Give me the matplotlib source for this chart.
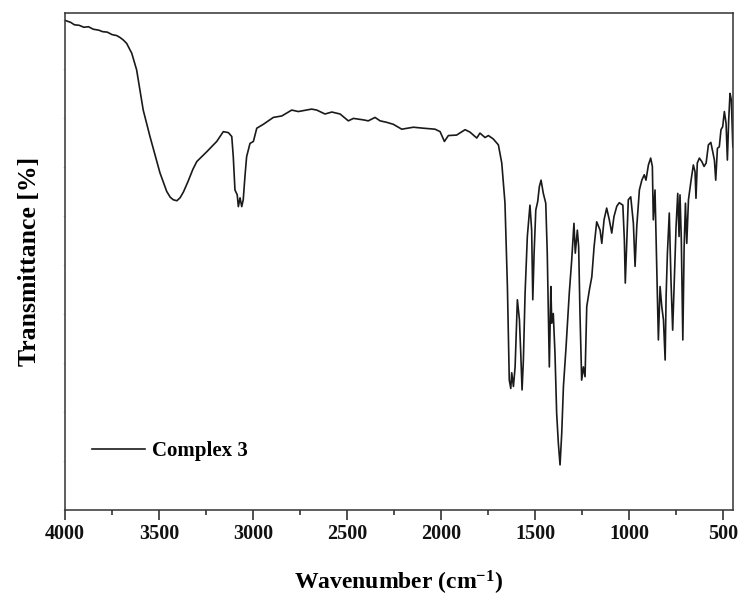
import numpy as np
import matplotlib
matplotlib.use("Agg")
import matplotlib.pyplot as plt
from matplotlib.ticker import MultipleLocator, NullFormatter

# IR spectrum of complex 3
# wavenumber (cm^-1) and transmittance (arbitrary %, axis unlabelled)
wavenumber = [
    4000, 3970, 3950, 3925, 3900, 3875, 3850, 3820, 3800, 3775, 3750, 3725,
    3707, 3690, 3672, 3645, 3619, 3584, 3548, 3520,
    3495, 3459, 3440, 3424, 3405, 3388, 3370, 3346, 3320, 3299, 3270, 3246, 3193, 3158, 3131, 3113, 3105,
    3096, 3084, 3078, 3069, 3060, 3052, 3043, 3034, 3016, 2998, 2980, 2945,
    2892, 2847, 2794, 2759, 2688, 2661, 2617, 2581, 2537, 2493, 2466, 2413,
    2387, 2351, 2324, 2289, 2254, 2209, 2147, 2094, 2032, 2005, 1982, 1961,
    1917, 1872, 1846, 1810, 1793, 1766, 1748, 1722, 1695, 1677, 1660, 1647,
    1637, 1629, 1624, 1615, 1606, 1594, 1583, 1576, 1569, 1562, 1553, 1541,
    1527, 1518, 1512, 1505, 1496, 1486, 1477, 1468, 1456, 1443, 1435, 1424,
    1416, 1411, 1403, 1394, 1385, 1376, 1367, 1358, 1349, 1335, 1318, 1305,
    1293, 1286, 1275, 1268, 1261, 1252, 1243, 1234, 1225, 1211, 1198, 1186,
    1172, 1154, 1145, 1133, 1119, 1105, 1092, 1080, 1065, 1052, 1033, 1025,
    1020, 1012, 1004, 991, 977, 968, 959, 945, 932, 919, 910, 897,
    885, 876, 871, 862, 853, 844, 835, 826, 817, 808, 803, 796,
    786, 777, 768, 761, 750, 741, 734, 729, 722, 714, 707, 700,
    693, 684, 670, 658, 649, 644, 637, 626, 613, 601, 590, 578,
    565, 555, 546, 539, 530, 520, 511, 502, 493, 484, 477, 470,
    463, 456, 448,
]
transmittance = [
    99.9, 99.5, 99.0, 98.9, 98.5, 98.6, 98.1, 97.9, 97.6, 97.5, 97.0, 96.8,
    96.4, 95.9, 95.2, 93.2, 89.8, 81.6, 76.2, 72.3,
    68.8, 65.0, 63.8, 63.3, 63.1, 63.7, 64.9, 67.0, 69.5, 71.1, 72.2, 73.1, 75.2, 77.2, 77.0, 76.2, 72.1,
    65.3, 64.3, 61.9, 63.7, 61.9, 63.3, 68.0, 72.1, 74.8, 75.2, 77.9, 78.7,
    80.1, 80.4, 81.6, 81.3, 81.8, 81.6, 80.8, 81.2, 80.8, 79.4, 79.9, 79.6,
    79.4, 80.1, 79.4, 79.1, 78.7, 77.7, 78.1, 77.9, 77.7, 77.2, 75.2, 76.4,
    76.5, 77.6, 77.1, 75.9, 76.9, 76.0, 76.4, 75.7, 74.5, 70.8, 62.7, 45.6,
    26.5, 24.8, 28.0, 25.2, 29.2, 42.9, 38.8, 32.0, 24.5, 30.6, 44.2, 55.8,
    62.2, 57.1, 42.9, 52.4, 61.2, 62.9, 66.0, 67.3, 64.6, 62.6, 52.4, 29.2,
    45.6, 38.1, 40.1, 32.0, 19.7, 13.6, 9.2, 15.7, 25.2, 33.3, 44.2, 51.0,
    58.5, 52.4, 57.1, 53.7, 40.1, 26.5, 29.2, 27.2, 41.5, 44.9, 47.6, 53.7,
    58.8, 57.1, 54.4, 59.2, 61.6, 59.2, 56.5, 59.9, 62.0, 62.7, 62.2, 55.1,
    46.3, 55.1, 63.3, 63.9, 58.5, 49.7, 57.8, 65.3, 67.3, 68.4, 67.3, 70.4,
    71.8, 70.1, 59.2, 65.3, 49.7, 34.7, 45.6, 41.5, 38.8, 30.6, 43.5, 52.4,
    60.6, 46.9, 36.7, 44.9, 57.8, 64.6, 55.8, 64.3, 55.1, 34.7, 53.7, 62.6,
    54.4, 63.3, 67.3, 70.4, 69.0, 63.6, 70.8, 71.8, 71.1, 70.1, 70.8, 74.5,
    75.0, 73.1, 71.4, 67.3, 73.8, 74.1, 77.6, 78.2, 81.3, 78.9, 71.4, 79.6,
    85.0, 83.7, 74.1,
]

x_ticks = [4000, 3500, 3000, 2500, 2000, 1500, 1000, 500]

plt.rcParams['font.family'] = ['Liberation Serif', 'DejaVu Serif']
plt.rcParams['font.weight'] = 'bold'
plt.rcParams['mathtext.fontset'] = 'custom'
plt.rcParams['mathtext.rm'] = 'Liberation Serif:bold'
plt.rcParams['mathtext.bf'] = 'Liberation Serif:bold'
plt.rcParams['mathtext.default'] = 'bf'

fig = plt.figure(figsize=(7.42, 6.06), dpi=100)
ax = fig.add_axes([0.0876, 0.1584, 0.9003, 0.8201])

ax.plot(wavenumber, transmittance, color='#1a1a1a', linewidth=1.2, label='Complex 3')

ax.set_xlim(4000, 447)
ax.set_ylim(0, 101.4)
ax.set_xticks(x_ticks)
ax.xaxis.set_minor_locator(MultipleLocator(250))
ax.yaxis.set_major_locator(MultipleLocator(10))
ax.yaxis.set_major_formatter(NullFormatter())

ax.tick_params(axis='x', which='major', direction='out', length=7, width=1.1,
               labelsize=14.5, colors='#222222', pad=3)
ax.tick_params(axis='x', which='minor', direction='out', length=3.5, width=1.1,
               colors='#222222')
ax.tick_params(axis='y', which='major', direction='out', length=1.5, width=0.6,
               colors='#cccccc')
for lab in ax.get_xticklabels():
    lab.set_fontweight('bold')
    lab.set_color('#111111')

for s in ax.spines.values():
    s.set_linewidth(1.1)
    s.set_color('#333333')

ax.set_xlabel("Wavenumber (cm$^{-1}$)", fontsize=17, fontweight='bold', labelpad=18)
ax.set_ylabel("Transmittance [%]", fontsize=18.5, fontweight='bold', labelpad=12)

ax.legend(loc='center left', bbox_to_anchor=(0.04, 0.119), frameon=False,
          handlelength=2.55, handletextpad=0.34,
          borderpad=0, borderaxespad=0, prop={'weight': 'bold', 'size': 15})

fig.savefig("out.png", dpi=100)
